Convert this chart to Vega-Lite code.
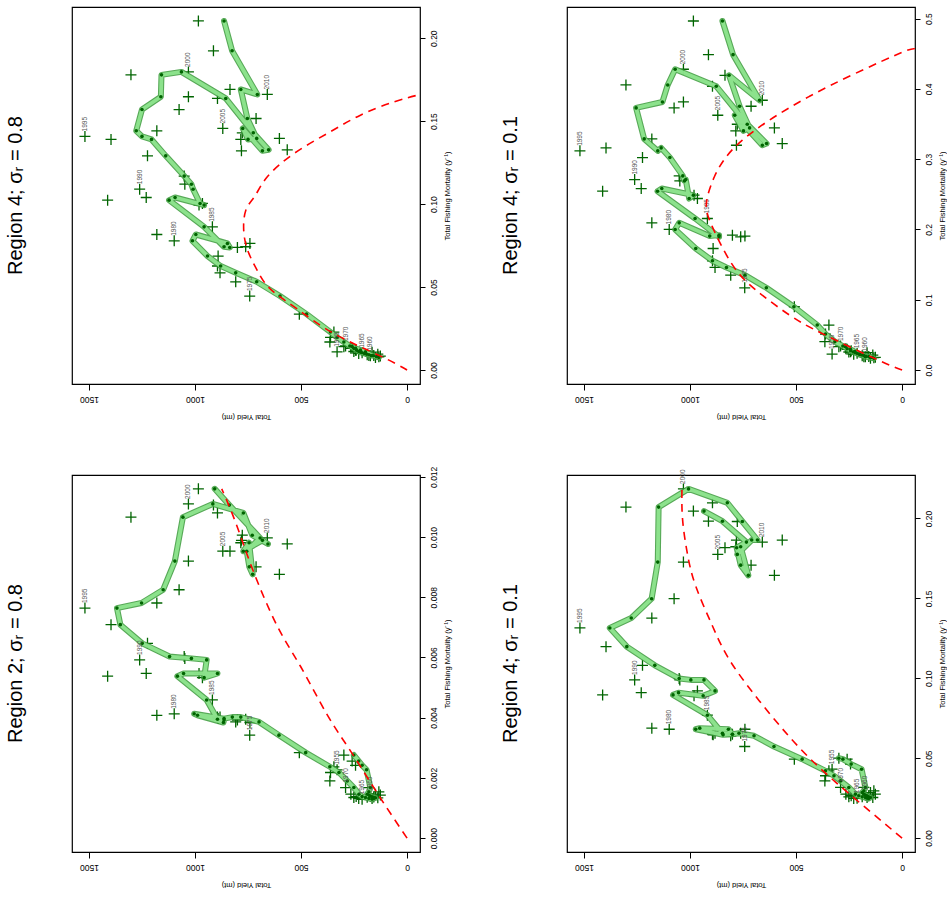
{
  "$schema": "https://vega.github.io/schema/vega-lite/v6.json",
  "background": "white",
  "padding": {"left": 5, "top": 6, "right": 0, "bottom": 0},
  "config": {
    "view": {"stroke": "black", "strokeWidth": 1.2},
    "font": "Liberation Sans"
  },
  "columns": 2,
  "spacing": {"row": 44, "column": 48},
  "datasets": {
    "tl": [
      {"year":1952,"F":0.0141,"Yp":259,"Yo":298},{"year":1953,"F":0.0131,"Yp":243,"Yo":259},{"year":1954,"F":0.0120,"Yp":220,"Yo":243},{"year":1955,"F":0.0110,"Yp":196,"Yo":330},{"year":1956,"F":0.0088,"Yp":165,"Yo":180},{"year":1957,"F":0.0080,"Yp":144,"Yo":133},{"year":1958,"F":0.0076,"Yp":133,"Yo":149},{"year":1959,"F":0.0084,"Yp":141,"Yo":126},{"year":1960,"F":0.0086,"Yp":157,"Yo":173},{"year":1961,"F":0.0088,"Yp":170,"Yo":157},{"year":1962,"F":0.0092,"Yp":180,"Yo":188},{"year":1963,"F":0.0096,"Yp":191,"Yo":138},{"year":1964,"F":0.0100,"Yp":201,"Yo":228},{"year":1965,"F":0.0104,"Yp":212,"Yo":212},{"year":1966,"F":0.0108,"Yp":220,"Yo":165},{"year":1967,"F":0.0112,"Yp":228,"Yo":251},{"year":1968,"F":0.0120,"Yp":238,"Yo":240},{"year":1969,"F":0.0131,"Yp":251,"Yo":265},{"year":1970,"F":0.0145,"Yp":270,"Yo":290},{"year":1971,"F":0.0169,"Yp":298,"Yo":364},{"year":1972,"F":0.0197,"Yp":330,"Yo":361},{"year":1973,"F":0.0229,"Yp":361,"Yo":345},{"year":1974,"F":0.0337,"Yp":474,"Yo":508},{"year":1975,"F":0.0446,"Yp":599,"Yo":742},{"year":1976,"F":0.0532,"Yp":709,"Yo":808},{"year":1977,"F":0.0586,"Yp":808,"Yo":882},{"year":1978,"F":0.0627,"Yp":879,"Yo":894},{"year":1979,"F":0.0687,"Yp":941,"Yo":891},{"year":1980,"F":0.0779,"Yp":1012,"Yo":1098},{"year":1981,"F":0.0817,"Yp":996,"Yo":1180},{"year":1982,"F":0.0763,"Yp":847,"Yo":741},{"year":1983,"F":0.0739,"Yp":836,"Yo":800},{"year":1984,"F":0.0743,"Yp":863,"Yo":761},{"year":1985,"F":0.0863,"Yp":957,"Yo":918},{"year":1986,"F":0.1024,"Yp":1122,"Yo":1412},{"year":1987,"F":0.1040,"Yp":1094,"Yo":1230},{"year":1988,"F":0.0994,"Yp":957,"Yo":981},{"year":1989,"F":0.1004,"Yp":976,"Yo":965},{"year":1990,"F":0.1090,"Yp":1009,"Yo":1261},{"year":1991,"F":0.1120,"Yp":1017,"Yo":1048},{"year":1992,"F":0.1169,"Yp":1051,"Yo":1051},{"year":1993,"F":0.1291,"Yp":1138,"Yo":1224},{"year":1994,"F":0.1390,"Yp":1205,"Yo":1396},{"year":1995,"F":0.1408,"Yp":1250,"Yo":1519},{"year":1996,"F":0.1442,"Yp":1277,"Yo":1180},{"year":1997,"F":0.1570,"Yp":1250,"Yo":1075},{"year":1998,"F":0.1647,"Yp":1161,"Yo":1031},{"year":1999,"F":0.1779,"Yp":1158,"Yo":1302},{"year":2000,"F":0.1797,"Yp":1064,"Yo":1031},{"year":2001,"F":0.1637,"Yp":855,"Yo":894},{"year":2002,"F":0.1430,"Yp":725,"Yo":777},{"year":2003,"F":0.1327,"Yp":653,"Yo":565},{"year":2004,"F":0.1321,"Yp":682,"Yo":781},{"year":2005,"F":0.1456,"Yp":775,"Yo":869},{"year":2006,"F":0.1390,"Yp":750,"Yo":784},{"year":2007,"F":0.1396,"Yp":709,"Yo":602},{"year":2008,"F":0.1516,"Yp":753,"Yo":712},{"year":2009,"F":0.1691,"Yp":784,"Yo":835},{"year":2010,"F":0.1661,"Yp":706,"Yo":659},{"year":2011,"F":0.1924,"Yp":825,"Yo":913},{"year":2012,"F":0.2104,"Yp":863,"Yo":984}
    ],
    "tr": [
      {"year":1952,"F":0.0332,"Yp":267,"Yo":298},{"year":1953,"F":0.0294,"Yp":243,"Yo":259},{"year":1954,"F":0.0261,"Yp":223,"Yo":243},{"year":1955,"F":0.0227,"Yp":201,"Yo":330},{"year":1956,"F":0.0190,"Yp":173,"Yo":180},{"year":1957,"F":0.0175,"Yp":149,"Yo":133},{"year":1958,"F":0.0166,"Yp":133,"Yo":149},{"year":1959,"F":0.0180,"Yp":141,"Yo":126},{"year":1960,"F":0.0190,"Yp":157,"Yo":173},{"year":1961,"F":0.0194,"Yp":170,"Yo":157},{"year":1962,"F":0.0204,"Yp":180,"Yo":188},{"year":1963,"F":0.0213,"Yp":191,"Yo":138},{"year":1964,"F":0.0223,"Yp":201,"Yo":228},{"year":1965,"F":0.0237,"Yp":212,"Yo":212},{"year":1966,"F":0.0246,"Yp":220,"Yo":165},{"year":1967,"F":0.0256,"Yp":231,"Yo":251},{"year":1968,"F":0.0275,"Yp":243,"Yo":240},{"year":1969,"F":0.0303,"Yp":259,"Yo":265},{"year":1970,"F":0.0341,"Yp":279,"Yo":290},{"year":1971,"F":0.0403,"Yp":317,"Yo":364},{"year":1972,"F":0.0512,"Yp":361,"Yo":361},{"year":1973,"F":0.0640,"Yp":400,"Yo":345},{"year":1974,"F":0.0900,"Yp":510,"Yo":508},{"year":1975,"F":0.1170,"Yp":640,"Yo":742},{"year":1976,"F":0.1350,"Yp":741,"Yo":808},{"year":1977,"F":0.1459,"Yp":828,"Yo":882},{"year":1978,"F":0.1554,"Yp":894,"Yo":894},{"year":1979,"F":0.1729,"Yp":973,"Yo":891},{"year":1980,"F":0.2000,"Yp":1070,"Yo":1098},{"year":1981,"F":0.2094,"Yp":1051,"Yo":1180},{"year":1982,"F":0.1905,"Yp":907,"Yo":741},{"year":1983,"F":0.1919,"Yp":863,"Yo":800},{"year":1984,"F":0.1895,"Yp":863,"Yo":761},{"year":1985,"F":0.2156,"Yp":976,"Yo":918},{"year":1986,"F":0.2544,"Yp":1153,"Yo":1412},{"year":1987,"F":0.2582,"Yp":1133,"Yo":1230},{"year":1988,"F":0.2488,"Yp":984,"Yo":981},{"year":1989,"F":0.2440,"Yp":1004,"Yo":965},{"year":1990,"F":0.2710,"Yp":1020,"Yo":1261},{"year":1991,"F":0.2691,"Yp":1026,"Yo":1048},{"year":1992,"F":0.2762,"Yp":1034,"Yo":1051},{"year":1993,"F":0.3023,"Yp":1095,"Yo":1224},{"year":1994,"F":0.3160,"Yp":1136,"Yo":1396},{"year":1995,"F":0.3118,"Yp":1152,"Yo":1519},{"year":1996,"F":0.3288,"Yp":1216,"Yo":1180},{"year":1997,"F":0.3729,"Yp":1254,"Yo":1075},{"year":1998,"F":0.3814,"Yp":1130,"Yo":1031},{"year":1999,"F":0.4056,"Yp":1105,"Yo":1302},{"year":2000,"F":0.4279,"Yp":1070,"Yo":1031},{"year":2001,"F":0.4037,"Yp":876,"Yo":894},{"year":2002,"F":0.3497,"Yp":730,"Yo":777},{"year":2003,"F":0.3222,"Yp":639,"Yo":565},{"year":2004,"F":0.3198,"Yp":659,"Yo":781},{"year":2005,"F":0.3625,"Yp":789,"Yo":869},{"year":2006,"F":0.3402,"Yp":748,"Yo":784},{"year":2007,"F":0.3445,"Yp":719,"Yo":602},{"year":2008,"F":0.3753,"Yp":766,"Yo":712},{"year":2009,"F":0.4193,"Yp":816,"Yo":835},{"year":2010,"F":0.3838,"Yp":672,"Yo":659},{"year":2011,"F":0.4487,"Yp":797,"Yo":913},{"year":2012,"F":0.4966,"Yp":847,"Yo":984}
    ],
    "bl": [
      {"year":1952,"F":0.00276,"Yp":251,"Yo":298},{"year":1953,"F":0.00256,"Yp":228,"Yo":259},{"year":1954,"F":0.00242,"Yp":212,"Yo":243},{"year":1955,"F":0.00227,"Yp":191,"Yo":330},{"year":1956,"F":0.00168,"Yp":173,"Yo":180},{"year":1957,"F":0.00154,"Yp":180,"Yo":133},{"year":1958,"F":0.00146,"Yp":188,"Yo":149},{"year":1959,"F":0.00143,"Yp":180,"Yo":126},{"year":1960,"F":0.00140,"Yp":173,"Yo":173},{"year":1961,"F":0.00137,"Yp":165,"Yo":157},{"year":1962,"F":0.00136,"Yp":157,"Yo":188},{"year":1963,"F":0.00134,"Yp":149,"Yo":138},{"year":1964,"F":0.00132,"Yp":157,"Yo":228},{"year":1965,"F":0.00129,"Yp":165,"Yo":212},{"year":1966,"F":0.00132,"Yp":180,"Yo":165},{"year":1967,"F":0.00135,"Yp":196,"Yo":251},{"year":1968,"F":0.00138,"Yp":212,"Yo":240},{"year":1969,"F":0.00146,"Yp":227,"Yo":265},{"year":1970,"F":0.00168,"Yp":251,"Yo":290},{"year":1971,"F":0.00190,"Yp":282,"Yo":364},{"year":1972,"F":0.00218,"Yp":321,"Yo":361},{"year":1973,"F":0.00237,"Yp":364,"Yo":345},{"year":1974,"F":0.00284,"Yp":478,"Yo":508},{"year":1975,"F":0.00342,"Yp":604,"Yo":742},{"year":1976,"F":0.00386,"Yp":698,"Yo":808},{"year":1977,"F":0.00402,"Yp":784,"Yo":882},{"year":1978,"F":0.00402,"Yp":824,"Yo":894},{"year":1979,"F":0.00397,"Yp":863,"Yo":891},{"year":1980,"F":0.00413,"Yp":1004,"Yo":1098},{"year":1981,"F":0.00408,"Yp":988,"Yo":1180},{"year":1982,"F":0.00384,"Yp":866,"Yo":741},{"year":1983,"F":0.00392,"Yp":863,"Yo":800},{"year":1984,"F":0.00395,"Yp":894,"Yo":761},{"year":1985,"F":0.00459,"Yp":945,"Yo":918},{"year":1986,"F":0.00538,"Yp":1083,"Yo":1412},{"year":1987,"F":0.00547,"Yp":1054,"Yo":1230},{"year":1988,"F":0.00547,"Yp":894,"Yo":981},{"year":1989,"F":0.00533,"Yp":957,"Yo":965},{"year":1990,"F":0.00592,"Yp":945,"Yo":1261},{"year":1991,"F":0.00597,"Yp":1017,"Yo":1048},{"year":1992,"F":0.00603,"Yp":1120,"Yo":1051},{"year":1993,"F":0.00647,"Yp":1249,"Yo":1224},{"year":1994,"F":0.00709,"Yp":1352,"Yo":1396},{"year":1995,"F":0.00764,"Yp":1368,"Yo":1519},{"year":1996,"F":0.00781,"Yp":1252,"Yo":1180},{"year":1997,"F":0.00825,"Yp":1150,"Yo":1075},{"year":1998,"F":0.00920,"Yp":1095,"Yo":1031},{"year":1999,"F":0.01066,"Yp":1057,"Yo":1302},{"year":2000,"F":0.01110,"Yp":916,"Yo":1031},{"year":2001,"F":0.01080,"Yp":772,"Yo":894},{"year":2002,"F":0.01006,"Yp":730,"Yo":777},{"year":2003,"F":0.00977,"Yp":656,"Yo":565},{"year":2004,"F":0.00989,"Yp":682,"Yo":781},{"year":2005,"F":0.00953,"Yp":772,"Yo":869},{"year":2006,"F":0.00981,"Yp":745,"Yo":784},{"year":2007,"F":0.00876,"Yp":728,"Yo":602},{"year":2008,"F":0.00901,"Yp":744,"Yo":712},{"year":2009,"F":0.00953,"Yp":756,"Yo":835},{"year":2010,"F":0.00997,"Yp":693,"Yo":659},{"year":2011,"F":0.01106,"Yp":838,"Yo":913},{"year":2012,"F":0.01160,"Yp":907,"Yo":984}
    ],
    "br": [
      {"year":1952,"F":0.0500,"Yp":298,"Yo":298},{"year":1953,"F":0.0494,"Yp":279,"Yo":259},{"year":1954,"F":0.0463,"Yp":240,"Yo":243},{"year":1955,"F":0.0431,"Yp":191,"Yo":330},{"year":1956,"F":0.0317,"Yp":173,"Yo":180},{"year":1957,"F":0.0296,"Yp":180,"Yo":133},{"year":1958,"F":0.0285,"Yp":188,"Yo":149},{"year":1959,"F":0.0275,"Yp":180,"Yo":126},{"year":1960,"F":0.0269,"Yp":173,"Yo":173},{"year":1961,"F":0.0265,"Yp":165,"Yo":157},{"year":1962,"F":0.0258,"Yp":157,"Yo":188},{"year":1963,"F":0.0254,"Yp":149,"Yo":138},{"year":1964,"F":0.0248,"Yp":157,"Yo":228},{"year":1965,"F":0.0250,"Yp":165,"Yo":212},{"year":1966,"F":0.0254,"Yp":173,"Yo":165},{"year":1967,"F":0.0258,"Yp":188,"Yo":251},{"year":1968,"F":0.0265,"Yp":204,"Yo":240},{"year":1969,"F":0.0275,"Yp":220,"Yo":265},{"year":1970,"F":0.0317,"Yp":251,"Yo":290},{"year":1971,"F":0.0358,"Yp":290,"Yo":364},{"year":1972,"F":0.0390,"Yp":321,"Yo":361},{"year":1973,"F":0.0421,"Yp":361,"Yo":345},{"year":1974,"F":0.0494,"Yp":471,"Yo":508},{"year":1975,"F":0.0573,"Yp":604,"Yo":742},{"year":1976,"F":0.0640,"Yp":698,"Yo":808},{"year":1977,"F":0.0656,"Yp":769,"Yo":882},{"year":1978,"F":0.0650,"Yp":800,"Yo":894},{"year":1979,"F":0.0646,"Yp":844,"Yo":891},{"year":1980,"F":0.0681,"Yp":973,"Yo":1098},{"year":1981,"F":0.0688,"Yp":954,"Yo":1180},{"year":1982,"F":0.0681,"Yp":819,"Yo":741},{"year":1983,"F":0.0650,"Yp":800,"Yo":800},{"year":1984,"F":0.0656,"Yp":847,"Yo":761},{"year":1985,"F":0.0769,"Yp":918,"Yo":918},{"year":1986,"F":0.0896,"Yp":1080,"Yo":1412},{"year":1987,"F":0.0910,"Yp":1054,"Yo":1230},{"year":1988,"F":0.0890,"Yp":938,"Yo":981},{"year":1989,"F":0.0921,"Yp":882,"Yo":965},{"year":1990,"F":0.0990,"Yp":934,"Yo":1261},{"year":1991,"F":0.0990,"Yp":996,"Yo":1048},{"year":1992,"F":0.0998,"Yp":1051,"Yo":1051},{"year":1993,"F":0.1081,"Yp":1166,"Yo":1224},{"year":1994,"F":0.1198,"Yp":1298,"Yo":1396},{"year":1995,"F":0.1315,"Yp":1378,"Yo":1519},{"year":1996,"F":0.1377,"Yp":1277,"Yo":1180},{"year":1997,"F":0.1498,"Yp":1181,"Yo":1075},{"year":1998,"F":0.1727,"Yp":1152,"Yo":1031},{"year":1999,"F":0.2071,"Yp":1148,"Yo":1302},{"year":2000,"F":0.2185,"Yp":1007,"Yo":1031},{"year":2001,"F":0.2098,"Yp":824,"Yo":894},{"year":2002,"F":0.1981,"Yp":753,"Yo":777},{"year":2003,"F":0.1865,"Yp":682,"Yo":565},{"year":2004,"F":0.1865,"Yp":709,"Yo":781},{"year":2005,"F":0.1775,"Yp":777,"Yo":869},{"year":2006,"F":0.1823,"Yp":761,"Yo":784},{"year":2007,"F":0.1644,"Yp":725,"Yo":602},{"year":2008,"F":0.1708,"Yp":761,"Yo":712},{"year":2009,"F":0.1817,"Yp":780,"Yo":835},{"year":2010,"F":0.1852,"Yp":734,"Yo":659},{"year":2011,"F":0.1983,"Yp":847,"Yo":913},{"year":2012,"F":0.2046,"Yp":934,"Yo":984}
    ],
    "ctl": [{"F":0,"Yp":0},{"F":0.0084,"Yp":125},{"F":0.022,"Yp":345},{"F":0.037,"Yp":520},{"F":0.049,"Yp":646},{"F":0.060,"Yp":706},{"F":0.070,"Yp":745},{"F":0.082,"Yp":769},{"F":0.096,"Yp":761},{"F":0.105,"Yp":717},{"F":0.1165,"Yp":659},{"F":0.1305,"Yp":533},{"F":0.1426,"Yp":376},{"F":0.1536,"Yp":220},{"F":0.1616,"Yp":63},{"F":0.166,"Yp":-60}],
    "ctr": [{"F":0,"Yp":0},{"F":0.0166,"Yp":131},{"F":0.052,"Yp":377},{"F":0.078,"Yp":530},{"F":0.114,"Yp":690},{"F":0.152,"Yp":805},{"F":0.204,"Yp":895},{"F":0.228,"Yp":922},{"F":0.246,"Yp":918},{"F":0.275,"Yp":885},{"F":0.303,"Yp":830},{"F":0.327,"Yp":753},{"F":0.355,"Yp":628},{"F":0.389,"Yp":439},{"F":0.422,"Yp":220},{"F":0.452,"Yp":0},{"F":0.457,"Yp":-60}],
    "cbl": [{"F":0,"Yp":0},{"F":0.0015,"Yp":141},{"F":0.0029,"Yp":267},{"F":0.0041,"Yp":377},{"F":0.0057,"Yp":502},{"F":0.00704,"Yp":612},{"F":0.00881,"Yp":722},{"F":0.01003,"Yp":785},{"F":0.01091,"Yp":832},{"F":0.0116,"Yp":874}],
    "cbr": [{"F":0,"Yp":0},{"F":0.0244,"Yp":220},{"F":0.0504,"Yp":439},{"F":0.0785,"Yp":628},{"F":0.1088,"Yp":801},{"F":0.1327,"Yp":894},{"F":0.1577,"Yp":973},{"F":0.1785,"Yp":1013},{"F":0.1994,"Yp":1035},{"F":0.218,"Yp":1038}]
  },
  "concat": [
    {
      "width": 348, "height": 377,
      "title": {"text": "Region 4; σᵣ = 0.8", "orient": "left", "anchor": "middle", "offset": 46, "fontSize": 20, "fontWeight": "normal", "font": "Liberation Sans", "color": "black"},
      "data": {"name": "tl"},
      "encoding": {
        "x": {"field": "Yp", "type": "quantitative", "title": "Total Yield (mt)", "scale": {"domain": [-61, 1580], "reverse": true, "nice": false, "zero": false},
          "axis": {"values": [0, 500, 1000, 1500], "format": "d", "labelAngle": 180, "labelAlign": "center", "labelBaseline": "bottom", "labelFontSize": 8.5, "labelPadding": 4, "labelColor": "black", "labelFlush": false, "tickSize": 6, "tickColor": "black", "titleAngle": 180, "titleBaseline": "bottom", "titleFontSize": 7.5, "titleFontWeight": "normal", "titleColor": "black", "titlePadding": 9, "domain": false, "grid": false}},
        "y": {"field": "F", "type": "quantitative", "title": "Total Fishing Mortality (y⁻¹)", "scale": {"domain": [-0.0084, 0.2188], "nice": false, "zero": false},
          "axis": {"orient": "right", "values": [0, 0.05, 0.1, 0.15, 0.2], "format": ".2f", "labelAngle": 270, "labelAlign": "center", "labelBaseline": "top", "labelFontSize": 8.5, "labelPadding": 4, "labelColor": "black", "labelFlush": false, "tickSize": 5, "tickColor": "black", "titleAngle": 270, "titleBaseline": "top", "titleFontSize": 7.5, "titleFontWeight": "normal", "titleColor": "black", "titlePadding": 6, "domain": false, "grid": false}}
      },
      "layer": [
        {"mark": {"type": "point", "shape": "M-1,0L1,0M0,-1L0,1", "filled": false, "stroke": "#006400", "strokeWidth": 1.3, "size": 121, "opacity": 1},
         "encoding": {"x": {"field": "Yo", "type": "quantitative", "title": "Total Yield (mt)", "scale": {"domain": [-61, 1580], "reverse": true, "nice": false, "zero": false}}}},
        {"mark": {"type": "line", "stroke": "#3a9a3a", "strokeWidth": 6, "strokeJoin": "round", "strokeCap": "round", "opacity": 0.85},
         "encoding": {"order": {"field": "year", "type": "quantitative"}}},
        {"mark": {"type": "line", "stroke": "#92e892", "strokeWidth": 3.8, "strokeJoin": "round", "strokeCap": "round", "opacity": 0.9},
         "encoding": {"order": {"field": "year", "type": "quantitative"}}},
        {"mark": {"type": "circle", "color": "#006400", "size": 13, "opacity": 1}},
        {"transform": [{"filter": "datum.year % 5 == 0"}],
         "mark": {"type": "text", "angle": 270, "align": "left", "baseline": "middle", "dx": 5, "fontSize": 6.5, "color": "#555555"},
         "encoding": {"x": {"field": "Yo", "type": "quantitative", "title": "Total Yield (mt)", "scale": {"domain": [-61, 1580], "reverse": true, "nice": false, "zero": false}}, "text": {"field": "year", "type": "nominal"}}},
        {"data": {"name": "ctl"},
         "mark": {"type": "line", "stroke": "red", "strokeWidth": 1.6, "strokeDash": [8, 6], "clip": true, "interpolate": "natural"},
         "encoding": {"order": {"field": "F", "type": "quantitative"}}}
      ]
    },
    {
      "width": 348, "height": 377,
      "title": {"text": "Region 4; σᵣ = 0.1", "orient": "left", "anchor": "middle", "offset": 46, "fontSize": 20, "fontWeight": "normal", "font": "Liberation Sans", "color": "black"},
      "data": {"name": "tr"},
      "encoding": {
        "x": {"field": "Yp", "type": "quantitative", "title": "Total Yield (mt)", "scale": {"domain": [-61, 1580], "reverse": true, "nice": false, "zero": false},
          "axis": {"values": [0, 500, 1000, 1500], "format": "d", "labelAngle": 180, "labelAlign": "center", "labelBaseline": "bottom", "labelFontSize": 8.5, "labelPadding": 4, "labelColor": "black", "labelFlush": false, "tickSize": 6, "tickColor": "black", "titleAngle": 180, "titleBaseline": "bottom", "titleFontSize": 7.5, "titleFontWeight": "normal", "titleColor": "black", "titlePadding": 9, "domain": false, "grid": false}},
        "y": {"field": "F", "type": "quantitative", "title": "Total Fishing Mortality (y⁻¹)", "scale": {"domain": [-0.0199, 0.5165], "nice": false, "zero": false},
          "axis": {"orient": "right", "values": [0, 0.1, 0.2, 0.3, 0.4, 0.5], "format": ".1f", "labelAngle": 270, "labelAlign": "center", "labelBaseline": "top", "labelFontSize": 8.5, "labelPadding": 4, "labelColor": "black", "labelFlush": false, "tickSize": 5, "tickColor": "black", "titleAngle": 270, "titleBaseline": "top", "titleFontSize": 7.5, "titleFontWeight": "normal", "titleColor": "black", "titlePadding": 6, "domain": false, "grid": false}}
      },
      "layer": [
        {"mark": {"type": "point", "shape": "M-1,0L1,0M0,-1L0,1", "filled": false, "stroke": "#006400", "strokeWidth": 1.3, "size": 121, "opacity": 1},
         "encoding": {"x": {"field": "Yo", "type": "quantitative", "title": "Total Yield (mt)", "scale": {"domain": [-61, 1580], "reverse": true, "nice": false, "zero": false}}}},
        {"mark": {"type": "line", "stroke": "#3a9a3a", "strokeWidth": 6, "strokeJoin": "round", "strokeCap": "round", "opacity": 0.85},
         "encoding": {"order": {"field": "year", "type": "quantitative"}}},
        {"mark": {"type": "line", "stroke": "#92e892", "strokeWidth": 3.8, "strokeJoin": "round", "strokeCap": "round", "opacity": 0.9},
         "encoding": {"order": {"field": "year", "type": "quantitative"}}},
        {"mark": {"type": "circle", "color": "#006400", "size": 13, "opacity": 1}},
        {"transform": [{"filter": "datum.year % 5 == 0"}],
         "mark": {"type": "text", "angle": 270, "align": "left", "baseline": "middle", "dx": 5, "fontSize": 6.5, "color": "#555555"},
         "encoding": {"x": {"field": "Yo", "type": "quantitative", "title": "Total Yield (mt)", "scale": {"domain": [-61, 1580], "reverse": true, "nice": false, "zero": false}}, "text": {"field": "year", "type": "nominal"}}},
        {"data": {"name": "ctr"},
         "mark": {"type": "line", "stroke": "red", "strokeWidth": 1.6, "strokeDash": [8, 6], "clip": true, "interpolate": "natural"},
         "encoding": {"order": {"field": "F", "type": "quantitative"}}}
      ]
    },
    {
      "width": 348, "height": 377,
      "title": {"text": "Region 2; σᵣ = 0.8", "orient": "left", "anchor": "middle", "offset": 46, "fontSize": 20, "fontWeight": "normal", "font": "Liberation Sans", "color": "black"},
      "data": {"name": "bl"},
      "encoding": {
        "x": {"field": "Yp", "type": "quantitative", "title": "Total Yield (mt)", "scale": {"domain": [-61, 1580], "reverse": true, "nice": false, "zero": false},
          "axis": {"values": [0, 500, 1000, 1500], "format": "d", "labelAngle": 180, "labelAlign": "center", "labelBaseline": "bottom", "labelFontSize": 8.5, "labelPadding": 4, "labelColor": "black", "labelFlush": false, "tickSize": 6, "tickColor": "black", "titleAngle": 180, "titleBaseline": "bottom", "titleFontSize": 7.5, "titleFontWeight": "normal", "titleColor": "black", "titlePadding": 9, "domain": false, "grid": false}},
        "y": {"field": "F", "type": "quantitative", "title": "Total Fishing Mortality (y⁻¹)", "scale": {"domain": [-0.00046, 0.01206], "nice": false, "zero": false},
          "axis": {"orient": "right", "values": [0, 0.002, 0.004, 0.006, 0.008, 0.01, 0.012], "format": ".3f", "labelAngle": 270, "labelAlign": "center", "labelBaseline": "top", "labelFontSize": 8.5, "labelPadding": 4, "labelColor": "black", "labelFlush": false, "tickSize": 5, "tickColor": "black", "titleAngle": 270, "titleBaseline": "top", "titleFontSize": 7.5, "titleFontWeight": "normal", "titleColor": "black", "titlePadding": 6, "domain": false, "grid": false}}
      },
      "layer": [
        {"mark": {"type": "point", "shape": "M-1,0L1,0M0,-1L0,1", "filled": false, "stroke": "#006400", "strokeWidth": 1.3, "size": 121, "opacity": 1},
         "encoding": {"x": {"field": "Yo", "type": "quantitative", "title": "Total Yield (mt)", "scale": {"domain": [-61, 1580], "reverse": true, "nice": false, "zero": false}}}},
        {"mark": {"type": "line", "stroke": "#3a9a3a", "strokeWidth": 6, "strokeJoin": "round", "strokeCap": "round", "opacity": 0.85},
         "encoding": {"order": {"field": "year", "type": "quantitative"}}},
        {"mark": {"type": "line", "stroke": "#92e892", "strokeWidth": 3.8, "strokeJoin": "round", "strokeCap": "round", "opacity": 0.9},
         "encoding": {"order": {"field": "year", "type": "quantitative"}}},
        {"mark": {"type": "circle", "color": "#006400", "size": 13, "opacity": 1}},
        {"transform": [{"filter": "datum.year % 5 == 0"}],
         "mark": {"type": "text", "angle": 270, "align": "left", "baseline": "middle", "dx": 5, "fontSize": 6.5, "color": "#555555"},
         "encoding": {"x": {"field": "Yo", "type": "quantitative", "title": "Total Yield (mt)", "scale": {"domain": [-61, 1580], "reverse": true, "nice": false, "zero": false}}, "text": {"field": "year", "type": "nominal"}}},
        {"data": {"name": "cbl"},
         "mark": {"type": "line", "stroke": "red", "strokeWidth": 1.6, "strokeDash": [8, 6], "clip": true, "interpolate": "natural"},
         "encoding": {"order": {"field": "F", "type": "quantitative"}}}
      ]
    },
    {
      "width": 348, "height": 377,
      "title": {"text": "Region 4; σᵣ = 0.1", "orient": "left", "anchor": "middle", "offset": 46, "fontSize": 20, "fontWeight": "normal", "font": "Liberation Sans", "color": "black"},
      "data": {"name": "br"},
      "encoding": {
        "x": {"field": "Yp", "type": "quantitative", "title": "Total Yield (mt)", "scale": {"domain": [-61, 1580], "reverse": true, "nice": false, "zero": false},
          "axis": {"values": [0, 500, 1000, 1500], "format": "d", "labelAngle": 180, "labelAlign": "center", "labelBaseline": "bottom", "labelFontSize": 8.5, "labelPadding": 4, "labelColor": "black", "labelFlush": false, "tickSize": 6, "tickColor": "black", "titleAngle": 180, "titleBaseline": "bottom", "titleFontSize": 7.5, "titleFontWeight": "normal", "titleColor": "black", "titlePadding": 9, "domain": false, "grid": false}},
        "y": {"field": "F", "type": "quantitative", "title": "Total Fishing Mortality (y⁻¹)", "scale": {"domain": [-0.0087, 0.2272], "nice": false, "zero": false},
          "axis": {"orient": "right", "values": [0, 0.05, 0.1, 0.15, 0.2], "format": ".2f", "labelAngle": 270, "labelAlign": "center", "labelBaseline": "top", "labelFontSize": 8.5, "labelPadding": 4, "labelColor": "black", "labelFlush": false, "tickSize": 5, "tickColor": "black", "titleAngle": 270, "titleBaseline": "top", "titleFontSize": 7.5, "titleFontWeight": "normal", "titleColor": "black", "titlePadding": 6, "domain": false, "grid": false}}
      },
      "layer": [
        {"mark": {"type": "point", "shape": "M-1,0L1,0M0,-1L0,1", "filled": false, "stroke": "#006400", "strokeWidth": 1.3, "size": 121, "opacity": 1},
         "encoding": {"x": {"field": "Yo", "type": "quantitative", "title": "Total Yield (mt)", "scale": {"domain": [-61, 1580], "reverse": true, "nice": false, "zero": false}}}},
        {"mark": {"type": "line", "stroke": "#3a9a3a", "strokeWidth": 6, "strokeJoin": "round", "strokeCap": "round", "opacity": 0.85},
         "encoding": {"order": {"field": "year", "type": "quantitative"}}},
        {"mark": {"type": "line", "stroke": "#92e892", "strokeWidth": 3.8, "strokeJoin": "round", "strokeCap": "round", "opacity": 0.9},
         "encoding": {"order": {"field": "year", "type": "quantitative"}}},
        {"mark": {"type": "circle", "color": "#006400", "size": 13, "opacity": 1}},
        {"transform": [{"filter": "datum.year % 5 == 0"}],
         "mark": {"type": "text", "angle": 270, "align": "left", "baseline": "middle", "dx": 5, "fontSize": 6.5, "color": "#555555"},
         "encoding": {"x": {"field": "Yo", "type": "quantitative", "title": "Total Yield (mt)", "scale": {"domain": [-61, 1580], "reverse": true, "nice": false, "zero": false}}, "text": {"field": "year", "type": "nominal"}}},
        {"data": {"name": "cbr"},
         "mark": {"type": "line", "stroke": "red", "strokeWidth": 1.6, "strokeDash": [8, 6], "clip": true, "interpolate": "natural"},
         "encoding": {"order": {"field": "F", "type": "quantitative"}}}
      ]
    }
  ]
}
